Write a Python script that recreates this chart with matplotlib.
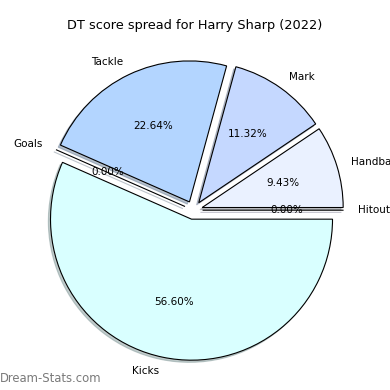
import matplotlib
matplotlib.use("Agg")
import matplotlib.pyplot as plt

categories = ["Hitout", "Handball", "Mark", "Tackle", "Goals", "Kicks"]
scores = [0, 5, 6, 12, 0, 30]
colours = ["#e0e0ff", "#eaf1ff", "#c5d8ff", "#b3d5ff", "#d0e8ff", "#d9ffff"]

fig = plt.figure(figsize=(3.9, 3.9), dpi=100)
ax = fig.add_axes([0, 0, 1, 1])

ax.pie(scores, labels=categories, colors=colours, autopct="%.2f%%",
       explode=[0.065] * len(scores),
       shadow={"ox": -0.011, "oy": -0.011, "shade": 0.4}, startangle=0,
       wedgeprops={"edgecolor": "black", "linewidth": 0.8},
       textprops={"fontsize": 7.5})

# put the pie where it sits in the reference (radius ~141 px)
r = 141.0
cx, cy = 193.4, 210.2
ax.set_xlim(-cx / r, (390 - cx) / r)
ax.set_ylim(-(390 - cy) / r, cy / r)
ax.set_aspect("equal")
ax.axis("off")

fig.text(0.5, 1 - 25 / 390, "DT score spread for Harry Sharp (2022)",
         ha="center", va="center", fontsize=9.3)
fig.text(0.0, 12 / 390, "Dream-Stats.com", ha="left", va="center",
         fontsize=8.4, color="#7a7a7a")

fig.savefig("out.png", dpi=100)
